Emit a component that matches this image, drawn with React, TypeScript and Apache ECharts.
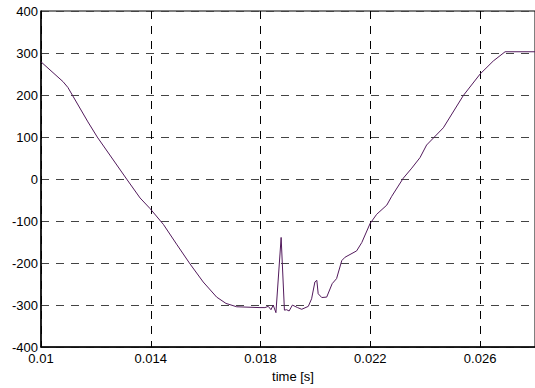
import React, { useEffect, useRef } from "react";
import * as echarts from "echarts";

const timeValues: number[] = [
  0.01, 0.0108, 0.01098, 0.01171, 0.01205, 0.01312, 0.01361, 0.01397, 0.01446, 0.01494,
  0.01543, 0.01591, 0.0164, 0.01674, 0.01713, 0.01798, 0.01816, 0.01828, 0.01838, 0.01846,
  0.01856, 0.01875, 0.01887, 0.01895, 0.01904, 0.01916, 0.01935, 0.0195, 0.01974, 0.01986,
  0.01998, 0.02005, 0.0201, 0.02023, 0.02041, 0.02061, 0.02077, 0.02096, 0.02108, 0.0215,
  0.02169, 0.02199, 0.02223, 0.0226, 0.02278, 0.0232, 0.02351, 0.02381, 0.02405, 0.02466,
  0.02539, 0.026, 0.02648, 0.02691, 0.028,
];
const signalValues: number[] = [
  279, 232, 218, 136, 100, 0, -45, -70, -108, -155,
  -202, -245, -281, -296, -304, -306, -306, -303, -311, -300,
  -318, -139, -312, -311, -314, -300, -306, -310, -303, -285,
  -245, -241, -273, -282, -281, -249, -237, -194, -186, -171,
  -151, -106, -84, -62, -41, 2, 26, 51, 81, 122,
  199, 250, 281, 303, 303,
];
const xStart = 0.01;
const xEnd = 0.028;
const xStep = 0.004;
const yTicks: number[] = [-400, -300, -200, -100, 0, 100, 200, 300, 400];
const xLabel = "time [s]";

export default function App() {
  const ref = useRef<HTMLDivElement>(null);
  useEffect(() => {
    if (!ref.current) return;
    const chart = echarts.init(ref.current, null, { renderer: "svg" });
    const font = "'Liberation Sans', Arial, sans-serif";
    chart.setOption({
      animation: false,
      backgroundColor: "#fff",
      grid: {
        left: 41,
        right: -1,
        top: 11,
        bottom: 38,
        show: true,
        borderColor: "#000",
        borderWidth: 1,
        backgroundColor: "transparent",
      },
      xAxis: {
        type: "value",
        min: 0,
        max: xEnd - xStart,
        interval: xStep,
        name: xLabel,
        nameLocation: "middle",
        nameGap: 15,
        nameTextStyle: { color: "#000", fontSize: 13, fontFamily: font, padding: [0, 0, 0, 10] },
        axisLine: { show: true, onZero: false, lineStyle: { color: "#000", width: 1.5 } },
        axisTick: { show: false },
        axisLabel: {
          color: "#000",
          fontSize: 13,
          fontFamily: font,
          margin: 5,
          showMaxLabel: false,
          formatter: (v: number) => String(+(v + xStart).toFixed(3)),
        },
        splitLine: { show: true, lineStyle: { color: "#000", width: 1, type: [8, 7] } },
      },
      yAxis: {
        type: "value",
        min: yTicks[0],
        max: yTicks[yTicks.length - 1],
        interval: yTicks[1] - yTicks[0],
        axisLine: { show: true, onZero: false, lineStyle: { color: "#000", width: 1.5 } },
        axisTick: { show: false },
        axisLabel: { color: "#000", fontSize: 13, fontFamily: font, margin: 3 },
        splitLine: { show: true, lineStyle: { color: "#444", width: 1, type: [8, 7] } },
      },
      series: [
        {
          type: "line",
          data: timeValues.map((t, i) => [t - xStart, signalValues[i]]),
          showSymbol: false,
          lineStyle: { color: "#521a5c", width: 1 },
          clip: true,
        },
      ],
    });
    return () => chart.dispose();
  }, []);
  return (
    <div
      ref={ref}
      style={{ position: "fixed", left: 0, top: 0, width: 535, height: 388 }}
    />
  );
}
